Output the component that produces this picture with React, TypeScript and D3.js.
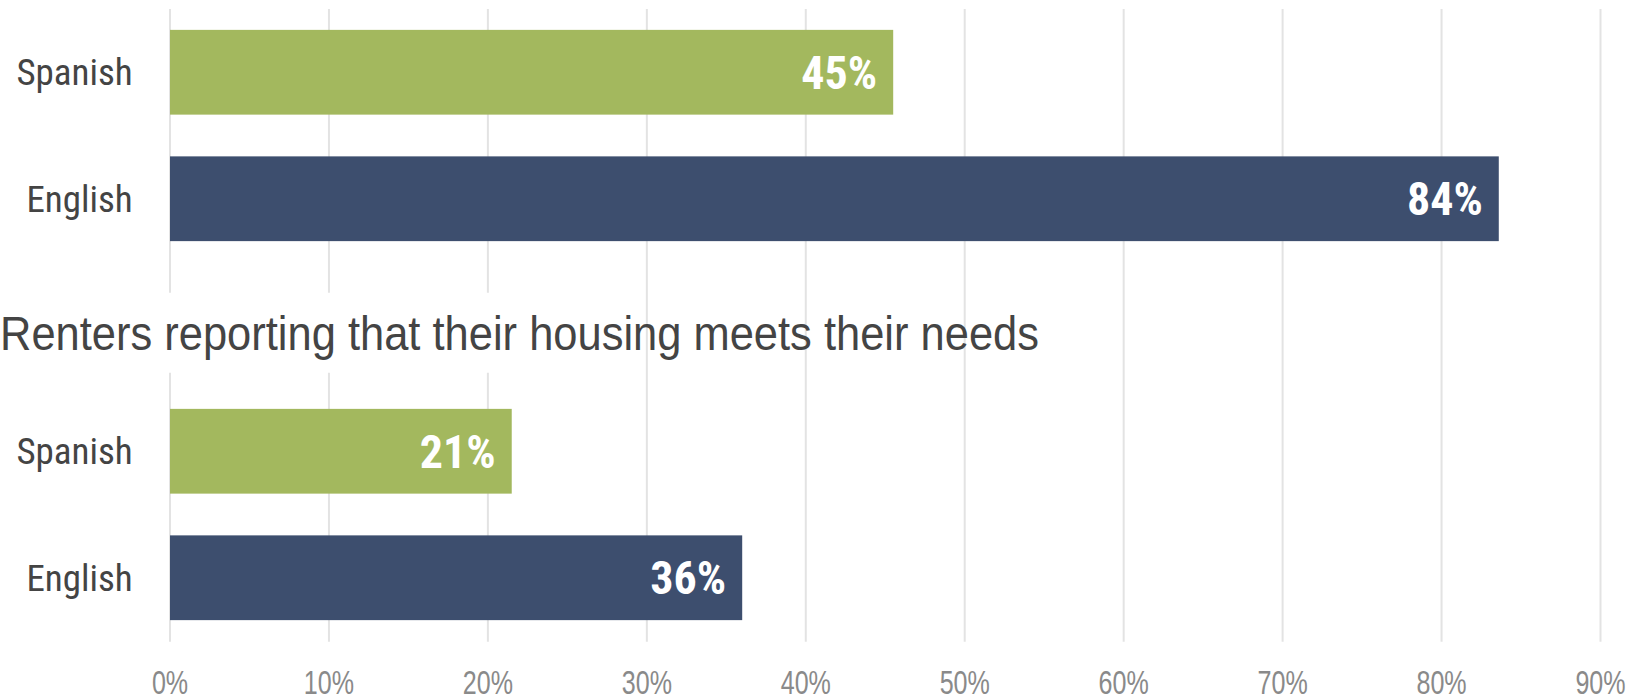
import React from "react";
import * as d3 from "d3";

const categories = ["Spanish", "English"];
const topValues = [45.5, 83.6];
const bottomValues = [21.5, 36.0];
const topLabels = ["45%", "84%"];
const bottomLabels = ["21%", "36%"];
const xTicks = [0, 10, 20, 30, 40, 50, 60, 70, 80, 90];
const title = "Renters reporting that their housing meets their needs";
const colors = ["#A3B85E", "#3D4E6E"];

const W = 1632;
const H = 698;
const COND = "'Roboto Condensed', 'Liberation Sans Narrow', 'DejaVu Sans Condensed', sans-serif";
const ARIAL = "'Liberation Sans', Arial, sans-serif";

export default function App() {
  const x = d3.scaleLinear().domain([0, 90]).range([170, 1600.5]);
  const yTop = d3.scaleBand<string>().domain(categories).range([9, 262]).paddingInner(0.33).paddingOuter(0.165);
  const yBot = d3.scaleBand<string>().domain(categories).range([388, 641]).paddingInner(0.33).paddingOuter(0.165);

  const topG = [9, 292.7];
  const botG = [372.7, 641.7];
  const titleBoxRight = 560;

  const bars = (y: d3.ScaleBand<string>, values: number[], labels: string[], key: string) => (
    <g key={key}>
      {categories.map((c, i) => (
        <g key={c}>
          <rect x={x(0)} y={y(c)} width={x(values[i]) - x(0)} height={y.bandwidth()} fill={colors[i]} />
          <text
            x={132.7}
            y={(y(c) as number) + y.bandwidth() / 2}
            dy="0.35em"
            textAnchor="end"
            fontSize={37}
            fill="#444444"
            fontFamily={COND}
          >
            {c}
          </text>
          <text
            x={x(values[i]) - 16}
            y={(y(c) as number) + y.bandwidth() / 2}
            dy="0.36em"
            textAnchor="end"
            fontSize={46}
            fontWeight="bold"
            fill="#FFFFFF"
            fontFamily={COND}
          >
            {labels[i]}
          </text>
        </g>
      ))}
    </g>
  );

  return (
    <svg width={W} height={H} style={{ position: "absolute", left: 0, top: 0, background: "#fff" }}>
      {xTicks.map((t) =>
        x(t) < titleBoxRight ? (
          <g key={t}>
            <line x1={x(t)} x2={x(t)} y1={topG[0]} y2={topG[1]} stroke="#E3E3E3" strokeWidth={2} />
            <line x1={x(t)} x2={x(t)} y1={botG[0]} y2={botG[1]} stroke="#E3E3E3" strokeWidth={2} />
          </g>
        ) : (
          <line key={t} x1={x(t)} x2={x(t)} y1={topG[0]} y2={botG[1]} stroke="#E3E3E3" strokeWidth={2} />
        )
      )}
      {bars(yTop, topValues, topLabels, "top")}
      {bars(yBot, bottomValues, bottomLabels, "bot")}
      <text
        x={0}
        y={350}
        fontSize={47.5}
        fill="#444444"
        fontFamily={ARIAL}
        textLength={1039}
        lengthAdjust="spacingAndGlyphs"
      >
        {title}
      </text>
      {xTicks.map((t) => (
        <text
          key={t}
          transform={`translate(${x(t)},694) scale(0.76,1)`}
          textAnchor="middle"
          fontSize={33}
          fill="#8A8A8A"
          fontFamily={ARIAL}
        >
          {t + "%"}
        </text>
      ))}
    </svg>
  );
}
